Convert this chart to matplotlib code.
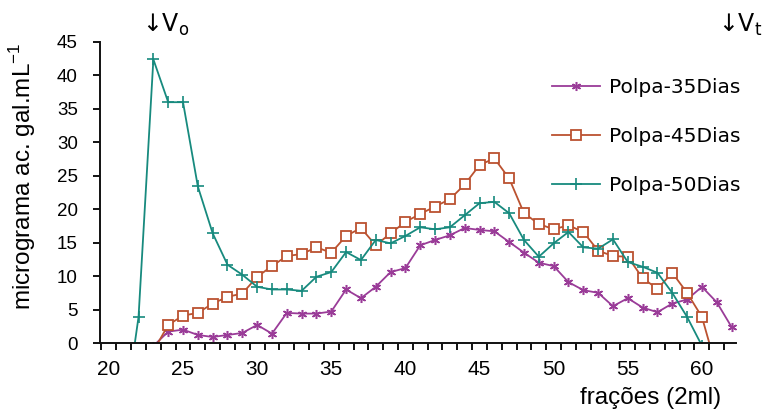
import matplotlib
matplotlib.use("Agg")
import matplotlib.pyplot as plt
import numpy as np

plt.rcParams['font.family'] = ['Liberation Sans', 'DejaVu Sans']
plt.rcParams['mathtext.fontset'] = 'custom'
plt.rcParams['mathtext.rm'] = 'Liberation Sans'

# Fractions (2 ml each) and galacturonic acid content per fraction
fr_35 = list(range(23, 63))
polpa_35 = [-0.45, 1.7, 2.0, 1.2, 0.9, 1.2, 1.5, 2.7, 1.4, 4.5,
            4.4, 4.4, 4.7, 8.0, 6.7, 8.4, 10.6, 11.2, 14.6, 15.4,
            16.1, 17.2, 16.9, 16.7, 15.1, 13.5, 12.0, 11.5, 9.1, 7.9,
            7.5, 5.5, 6.7, 5.3, 4.6, 5.9, 6.5, 8.4, 6.1, 2.4]

fr_45 = list(range(23, 62))
polpa_45 = [-1.2, 2.7, 4.1, 4.5, 5.9, 6.9, 7.4, 9.9, 11.5, 13.0,
            13.3, 14.3, 13.5, 16.0, 17.2, 14.6, 16.4, 18.1, 19.3, 20.4,
            21.5, 23.7, 26.6, 27.6, 24.6, 19.4, 17.8, 17.0, 17.6, 16.6,
            13.8, 13.0, 12.9, 9.7, 8.1, 10.5, 7.5, 3.9, -3.9]

fr_50 = list(range(21, 61))
polpa_50 = [-11.7, 3.9, 42.4, 36.0, 36.0, 23.4, 16.4, 11.7, 10.2, 8.4,
            8.0, 8.0, 7.8, 9.9, 10.6, 13.6, 12.4, 15.4, 14.9, 16.0,
            17.3, 17.0, 17.3, 19.1, 20.9, 21.1, 19.4, 15.4, 12.9, 14.9,
            16.6, 14.3, 14.1, 15.5, 12.1, 11.4, 10.5, 7.5, 3.9, -0.4]

series_labels = ["Polpa-35Dias", "Polpa-45Dias", "Polpa-50Dias"]
x_tick_values = [20, 25, 30, 35, 40, 45, 50, 55, 60]
y_tick_values = [0, 5, 10, 15, 20, 25, 30, 35, 40, 45]

W, H = 771, 416
fig = plt.figure(figsize=(W / 100, H / 100), dpi=100)
ax = fig.add_axes([100 / W, 1 - 343 / H, (736 - 100) / W, (343 - 42) / H])

c35, c45, c50 = "#9a3c98", "#bb5230", "#178a7e"

ax.plot(fr_35, polpa_35, color=c35, lw=1.3, marker=(6, 2, 0), ms=6.5,
        mew=1.1, label=series_labels[0])
ax.plot(fr_45, polpa_45, color=c45, lw=1.3, marker="s", ms=7,
        mfc="white", mec=c45, mew=1.3, label=series_labels[1])
ax.plot(fr_50, polpa_50, color=c50, lw=1.3, marker="+", ms=8.5,
        mew=1.2, label=series_labels[2])

ax.set_xlim(19.4, 62.3)
ax.set_ylim(0, 45)

ax.spines['top'].set_visible(False)
ax.spines['right'].set_visible(False)
for s in ('left', 'bottom'):
    ax.spines[s].set_linewidth(1.4)
    ax.spines[s].set_color("#111111")

ax.set_xticks(x_tick_values)
ax.set_xticklabels([str(v) for v in x_tick_values], fontsize=15)
ax.set_xticks(np.arange(19.5, 62.4, 1.0), minor=True)
ax.tick_params(axis='x', which='major', length=0, pad=12)
ax.tick_params(axis='x', which='minor', length=5, width=1.3, direction='out')
ax.set_yticks(y_tick_values)
ax.set_yticklabels([str(v) for v in y_tick_values], fontsize=13.5)
ax.tick_params(axis='y', length=5, width=1.3, direction='out', pad=11)

ax.set_ylabel("micrograma ac. gal.mL$^{\\mathregular{-1}}$", fontsize=17.5)
ax.yaxis.set_label_coords(-0.098, 0.555)
ax.set_xlabel("frações (2ml)", fontsize=17.5)
ax.xaxis.set_label_coords(0.865, -0.145)

ax.text(23.8, 47.6, "↓V$_\\mathregular{o}$", fontsize=17, ha="center",
        va="center", clip_on=False, family=['DejaVu Sans'])
ax.text(62.6, 47.6, "↓V$_\\mathregular{t}$", fontsize=17, ha="center",
        va="center", clip_on=False, family=['DejaVu Sans'])

leg = ax.legend(loc="upper left", bbox_to_anchor=(552 / W, 1 - 78 / H),
                bbox_transform=fig.transFigure, frameon=False,
                prop={'family': 'DejaVu Sans', 'size': 14.5},
                handlelength=2.4, handletextpad=0.45, labelspacing=1.5,
                borderpad=0, borderaxespad=0)

fig.savefig("out.png", dpi=100)
